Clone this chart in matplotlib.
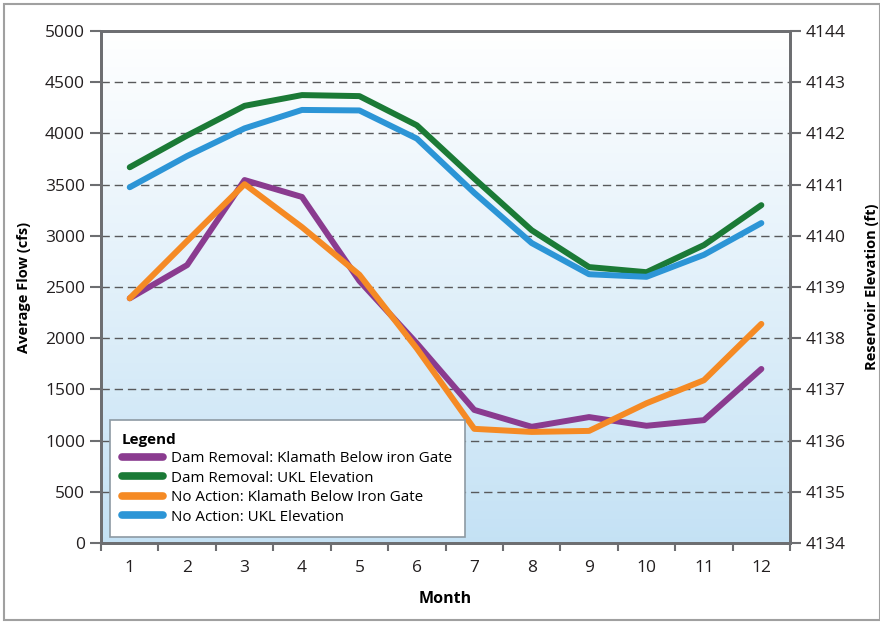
import numpy as np
import matplotlib.pyplot as plt
from matplotlib.lines import Line2D
from matplotlib.patches import Rectangle

plt.rcParams['font.family'] = ['Open Sans', 'DejaVu Sans']

months = [1, 2, 3, 4, 5, 6, 7, 8, 9, 10, 11, 12]

# flows (cfs), left axis
dam_klamath = [2390, 2715, 3545, 3380, 2560, 1950, 1300, 1135, 1230, 1145, 1200, 1700]
noact_klamath = [2390, 2950, 3505, 3085, 2620, 1900, 1115, 1085, 1095, 1365, 1590, 2140]

# reservoir elevation (ft), right axis
dam_ukl = [4141.34, 4141.96, 4142.54, 4142.75, 4142.73, 4142.16, 4141.12, 4140.11,
           4139.39, 4139.29, 4139.82, 4140.60]
noact_ukl = [4140.95, 4141.56, 4142.10, 4142.46, 4142.45, 4141.90, 4140.84, 4139.86,
             4139.25, 4139.20, 4139.63, 4140.25]

labels = ["Dam Removal: Klamath Below iron Gate", "Dam Removal: UKL Elevation",
          "No Action: Klamath Below Iron Gate", "No Action: UKL Elevation"]
c_purple = "#8a3b8f"
c_green = "#1b7a36"
c_orange = "#f58a24"
c_blue = "#2c95d6"
spine_c = "#6d6e71"

fig = plt.figure(figsize=(8.8, 6.22), dpi=100)
fig.patches.append(Rectangle((0.005, 0.004), 0.995, 0.99, transform=fig.transFigure,
                             fill=False, edgecolor="#a0a0a0", linewidth=1.5))

ax = fig.add_axes([0.1148, 0.127, 0.783, 0.823])
ax.set_xlim(0.5, 12.5)
ax.set_ylim(0, 5000)

# background gradient: white at top -> light blue at bottom
grad = np.linspace(0, 1, 256).reshape(-1, 1)
top = np.array([1.0, 1.0, 1.0])
bot = np.array([0.77, 0.885, 0.96])
img = top + (bot - top) * grad
img = img.reshape(256, 1, 3)
ax.imshow(img, extent=[0.5, 12.5, 0, 5000], aspect="auto", zorder=0)

for yv in range(500, 5000, 500):
    ax.axhline(yv, color="#58595b", linestyle=(0, (6, 3.5)), linewidth=1.0, zorder=1)

ax.plot(months, dam_klamath, color=c_purple, linewidth=4.3, zorder=3, solid_capstyle="round")
ax.plot(months, noact_klamath, color=c_orange, linewidth=4.3, zorder=3, solid_capstyle="round")

ax2 = ax.twinx()
ax2.set_ylim(4134, 4144)
ax2.plot(months, dam_ukl, color=c_green, linewidth=4.3, solid_capstyle="round")
ax2.plot(months, noact_ukl, color=c_blue, linewidth=4.3, solid_capstyle="round")

ax.set_xticks(months)
ax.set_xticklabels([str(m) for m in months])
ax.set_xticks(np.arange(0.5, 13, 1), minor=True)
ax.tick_params(axis="x", which="major", length=0, pad=12, labelsize=12.5, colors="#231f20")
ax.tick_params(axis="x", which="minor", length=6, width=1.5, color=spine_c, direction="out")
ax.set_yticks(range(0, 5001, 500))
ax.tick_params(axis="y", length=8, width=1.5, color=spine_c, labelsize=12.5, labelcolor="#231f20")
ax2.set_yticks(range(4134, 4145))
ax2.tick_params(axis="y", length=8, width=1.5, color=spine_c, labelsize=12.5, labelcolor="#231f20")

for a in (ax, ax2):
    for s in a.spines.values():
        s.set_color(spine_c)
        s.set_linewidth(2)

ax.set_xlabel("Month", fontsize=11.5, fontweight="bold", labelpad=11)
ax.set_ylabel("Average Flow (cfs)", fontsize=10.5, fontweight="bold", labelpad=10)
ax2.set_ylabel("Reservoir Elevation (ft)", fontsize=10.5, fontweight="bold", labelpad=14)

handles = [Line2D([], [], color=c, linewidth=5.5, solid_capstyle="round")
           for c in (c_purple, c_green, c_orange, c_blue)]
leg = ax2.legend(handles, labels, title="Legend", loc="lower left",
                 bbox_to_anchor=(0.013, 0.012), borderaxespad=0,
                 fontsize=10.9, title_fontsize=11,
                 frameon=True, fancybox=False, handlelength=2.7, handletextpad=0.55,
                 labelspacing=0.3, borderpad=0.8, alignment="left")
leg.get_title().set_fontweight("bold")
frame = leg.get_frame()
frame.set_facecolor("white")
frame.set_alpha(1)
frame.set_edgecolor("#8d9aa3")
frame.set_linewidth(1.2)

fig.savefig("out.png", dpi=100)
